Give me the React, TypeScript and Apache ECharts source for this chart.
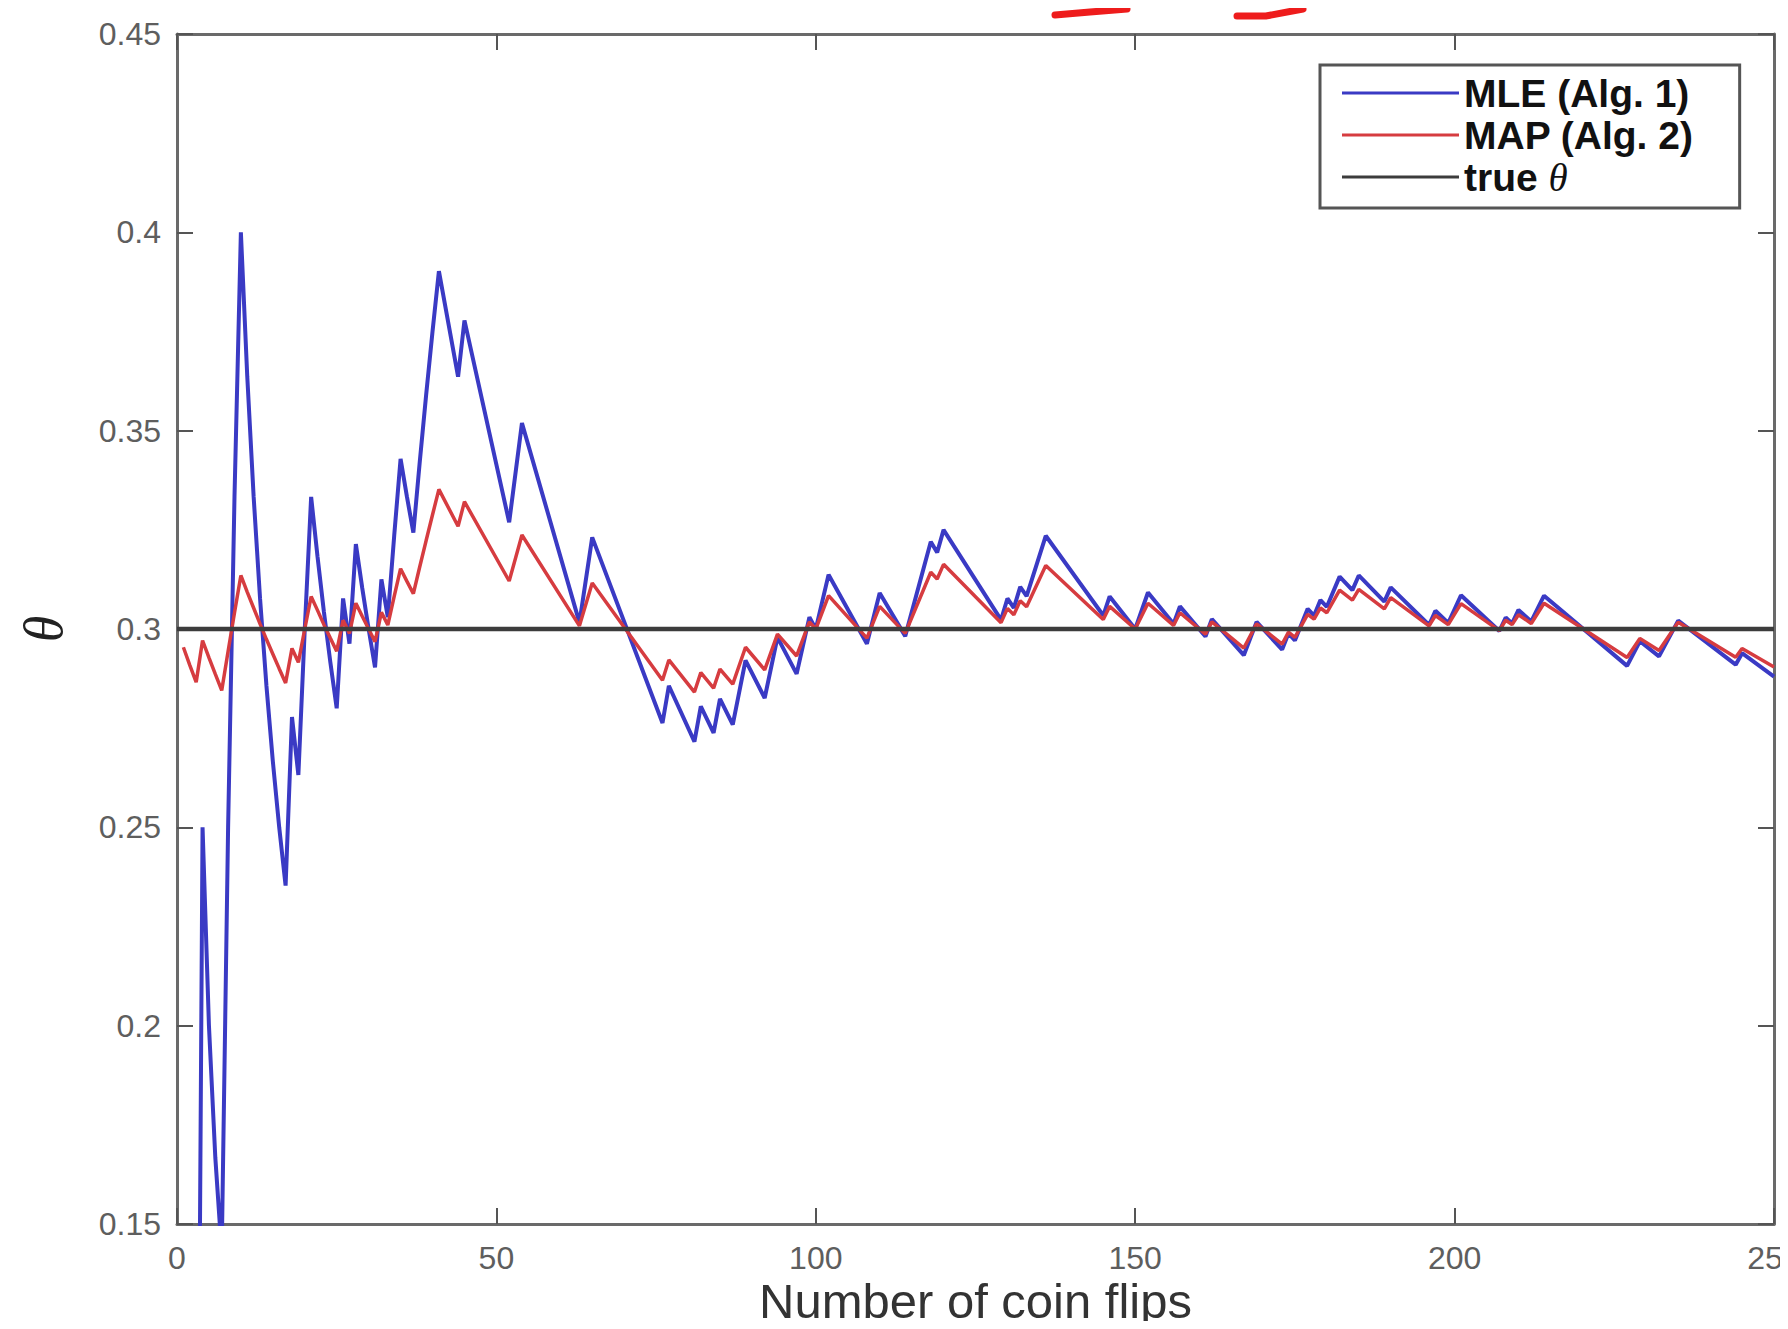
import React, { useEffect, useRef } from "react";
import * as echarts from "echarts";

// Number of coin flips at which the estimates were read (every flip up to 40, then the turning points)
const flips = [
  1, 2, 3, 4, 5, 6, 7, 8, 9, 10, 11, 12, 13, 14, 15, 16, 17, 18, 19, 20,
  21, 22, 23, 24, 25, 26, 27, 28, 29, 30, 31, 32, 33, 34, 35, 36, 37, 38, 39, 40,
  41, 44, 45, 52, 54, 63, 65, 76, 77, 81, 82, 84, 85, 87, 89, 92, 94, 97, 99, 100,
  102, 108, 110, 114, 118, 119, 120, 129, 130, 131, 132, 133, 136, 145, 146, 150,
  152, 156, 157, 161, 162, 167, 169, 173, 174, 175, 177, 178, 179, 180, 182, 184,
  185, 189, 190, 196, 197, 199, 201, 207, 208, 209, 210, 212, 214, 227, 229, 232,
  235, 244, 245, 250,
];

// MLE (Alg. 1) estimates
const mleValues = [
  0, 0, 0, 0.25, 0.2, 0.1667, 0.1429, 0.25, 0.3333, 0.4,
  0.3636, 0.3333, 0.3077, 0.2857, 0.2667, 0.25, 0.2353, 0.2778, 0.2632, 0.3,
  0.3333, 0.3182, 0.3043, 0.2917, 0.28, 0.3077, 0.2963, 0.3214, 0.3103, 0.3,
  0.2903, 0.3125, 0.303, 0.3235, 0.3429, 0.3333, 0.3243, 0.3421, 0.359, 0.375,
  0.3902, 0.3636, 0.3778, 0.3269, 0.3519, 0.3016, 0.3231, 0.2763, 0.2857, 0.2716,
  0.2805, 0.2738, 0.2824, 0.2759, 0.2921, 0.2826, 0.2979, 0.2887, 0.303, 0.3,
  0.3137, 0.2963, 0.3091, 0.2982, 0.322, 0.3193, 0.325, 0.3023, 0.3077, 0.3053,
  0.3106, 0.3083, 0.3235, 0.3034, 0.3082, 0.3, 0.3092, 0.3013, 0.3057, 0.2981,
  0.3025, 0.2934, 0.3018, 0.2948, 0.2989, 0.2971, 0.3051, 0.3034, 0.3073, 0.3056,
  0.3132, 0.3098, 0.3135, 0.3069, 0.3105, 0.301, 0.3046, 0.3015, 0.3085, 0.2995,
  0.3029, 0.3014, 0.3048, 0.3019, 0.3084, 0.2907, 0.2969, 0.2931, 0.3021, 0.291,
  0.2939, 0.288,
];

// MAP (Alg. 2) estimates
const mapValues = [
  0.2954, 0.2909, 0.2866, 0.2971, 0.2928, 0.2886, 0.2845, 0.2944, 0.3041, 0.3135,
  0.3093, 0.3053, 0.3013, 0.2974, 0.2937, 0.29, 0.2864, 0.2951, 0.2916, 0.3,
  0.3082, 0.3047, 0.3011, 0.2977, 0.2944, 0.3022, 0.2989, 0.3065, 0.3032, 0.3,
  0.2968, 0.3042, 0.301, 0.3082, 0.3152, 0.312, 0.3089, 0.3157, 0.3223, 0.3288,
  0.3352, 0.3259, 0.3321, 0.3121, 0.3237, 0.3008, 0.3116, 0.2871, 0.2922, 0.2841,
  0.289, 0.2851, 0.2899, 0.2861, 0.2954, 0.2897, 0.2987, 0.2932, 0.3018, 0.3,
  0.3084, 0.2977, 0.3057, 0.2989, 0.3143, 0.3126, 0.3163, 0.3016, 0.3052, 0.3036,
  0.3071, 0.3056, 0.316, 0.3024, 0.3057, 0.3, 0.3065, 0.3009, 0.3041, 0.2987,
  0.3018, 0.2952, 0.3013, 0.2962, 0.2992, 0.2979, 0.3037, 0.3025, 0.3053, 0.3041,
  0.3098, 0.3073, 0.31, 0.3051, 0.3079, 0.3008, 0.3034, 0.3011, 0.3064, 0.2996,
  0.3022, 0.3011, 0.3036, 0.3014, 0.3065, 0.2928, 0.2976, 0.2946, 0.3017, 0.2929,
  0.2951, 0.2904,
];

// True theta
const trueThetaFlips = [0, 250];
const trueThetaValue = 0.3;

// Axes
const xRange = [0, 250];
const xStep = 50;
const yRange = [0.15, 0.45];
const yStep = 0.05;

const seriesNames = ["MLE (Alg. 1)", "MAP (Alg. 2)", "true θ"];
const seriesColors = ["#3a3ac4", "#d63c40", "#3c3c3c"];

const W = 1788;
const H = 1329;

export default function App() {
  const ref = useRef<HTMLDivElement>(null);

  useEffect(() => {
    if (!ref.current) return;
    const chart = echarts.init(ref.current, undefined, { renderer: "svg", width: W, height: H });

    const mleData = flips.map((n, i) => [n, mleValues[i]]);
    const mapData = flips.map((n, i) => [n, mapValues[i]]);
    const trueData = trueThetaFlips.map((n) => [n, trueThetaValue]);

    const axisLineStyle = { color: "#6a6a6a", width: 3 };
    const tickStyle = { color: "#555", width: 2 };
    const labelStyle = {
      color: "#5e5e5e",
      fontSize: 32,
      lineHeight: 32,
      fontFamily: "Liberation Sans, Arial, sans-serif",
    };

    const option: any = {
      animation: false,
      backgroundColor: "#ffffff",
      grid: {
        left: 177,
        right: 14,
        top: 34,
        bottom: 105,
        containLabel: false,
        outerBoundsMode: "none",
      },
      legend: {
        orient: "vertical",
        left: 1320,
        top: 65,
        data: seriesNames,
        selectedMode: false,
        icon: "rect",
        backgroundColor: "#ffffff",
        borderColor: "#555",
        borderWidth: 3,
        borderRadius: 0,
        padding: [7, 46, 10, 22],
        itemWidth: 117,
        itemHeight: 3,
        itemGap: 0,
        formatter: (name: string) => (name === "true θ" ? "true {it|θ}" : name),
        textStyle: {
          color: "#111",
          fontSize: 39,
          fontWeight: "bold",
          fontFamily: "Liberation Sans, Arial, sans-serif",
          lineHeight: 42,
          rich: {
            it: {
              fontStyle: "italic",
              fontWeight: "normal",
              fontFamily: "Liberation Serif, serif",
              fontSize: 39,
              lineHeight: 42,
              color: "#111",
            },
          },
        },
      },
      xAxis: [
        {
          type: "value",
          min: xRange[0],
          max: xRange[1],
          interval: xStep,
          position: "bottom",
          name: "Number of coin flips",
          nameLocation: "middle",
          nameMoveOverlap: false,
          nameGap: 52,
          nameTextStyle: {
            color: "#333",
            fontSize: 49,
            lineHeight: 50,
            fontFamily: "Liberation Sans, Arial, sans-serif",
          },
          axisLine: { show: true, onZero: false, lineStyle: axisLineStyle },
          axisTick: { show: true, inside: true, length: 16, lineStyle: tickStyle },
          axisLabel: { ...labelStyle, margin: 18, showMaxLabel: true, showMinLabel: true },
          splitLine: { show: false },
        },
        {
          type: "value",
          min: xRange[0],
          max: xRange[1],
          interval: xStep,
          position: "top",
          axisLine: { show: true, onZero: false, lineStyle: axisLineStyle },
          axisTick: { show: true, inside: true, length: 16, lineStyle: tickStyle },
          axisLabel: { show: false },
          splitLine: { show: false },
        },
      ],
      yAxis: [
        {
          type: "value",
          min: yRange[0],
          max: yRange[1],
          interval: yStep,
          position: "left",
          name: "θ",
          nameLocation: "middle",
          nameMoveOverlap: false,
          nameRotate: 90,
          nameGap: 106,
          nameTextStyle: {
            color: "#222",
            fontSize: 54,
            fontStyle: "italic",
            fontFamily: "Liberation Serif, serif",
          },
          axisLine: { show: true, onZero: false, lineStyle: axisLineStyle },
          axisTick: { show: true, inside: true, length: 16, lineStyle: tickStyle },
          axisLabel: {
            ...labelStyle,
            margin: 16,
            formatter: (v: number) => String(Number(v.toFixed(2))),
          },
          splitLine: { show: false },
        },
        {
          type: "value",
          min: yRange[0],
          max: yRange[1],
          interval: yStep,
          position: "right",
          axisLine: { show: true, onZero: false, lineStyle: axisLineStyle },
          axisTick: { show: true, inside: true, length: 16, lineStyle: tickStyle },
          axisLabel: { show: false },
          splitLine: { show: false },
        },
      ],
      series: [
        {
          name: seriesNames[0],
          type: "line",
          data: mleData,
          showSymbol: false,
          symbol: "none",
          clip: true,
          color: seriesColors[0],
          lineStyle: { color: seriesColors[0], width: 4 },
        },
        {
          name: seriesNames[1],
          type: "line",
          data: mapData,
          showSymbol: false,
          symbol: "none",
          clip: true,
          color: seriesColors[1],
          lineStyle: { color: seriesColors[1], width: 3.5 },
        },
        {
          name: seriesNames[2],
          type: "line",
          data: trueData,
          showSymbol: false,
          symbol: "none",
          clip: true,
          color: seriesColors[2],
          lineStyle: { color: seriesColors[2], width: 4.5 },
        },
      ],
      graphic: [
        {
          type: "polyline",
          silent: true,
          shape: { points: [[1055, 15], [1090, 12], [1127, 9]] },
          style: { stroke: "#ee1c1c", lineWidth: 7, lineCap: "round", fill: "none" },
        },
        {
          type: "polyline",
          silent: true,
          shape: { points: [[1237, 16], [1266, 16], [1303, 9]] },
          style: { stroke: "#ee1c1c", lineWidth: 7, lineCap: "round", fill: "none" },
        },
      ],
    };

    chart.setOption(option);
    return () => {
      chart.dispose();
    };
  }, []);

  return (
    <div
      ref={ref}
      style={{
        margin: -8,
        width: W,
        height: H,
        overflow: "hidden",
        background: "#fff",
      }}
    />
  );
}
